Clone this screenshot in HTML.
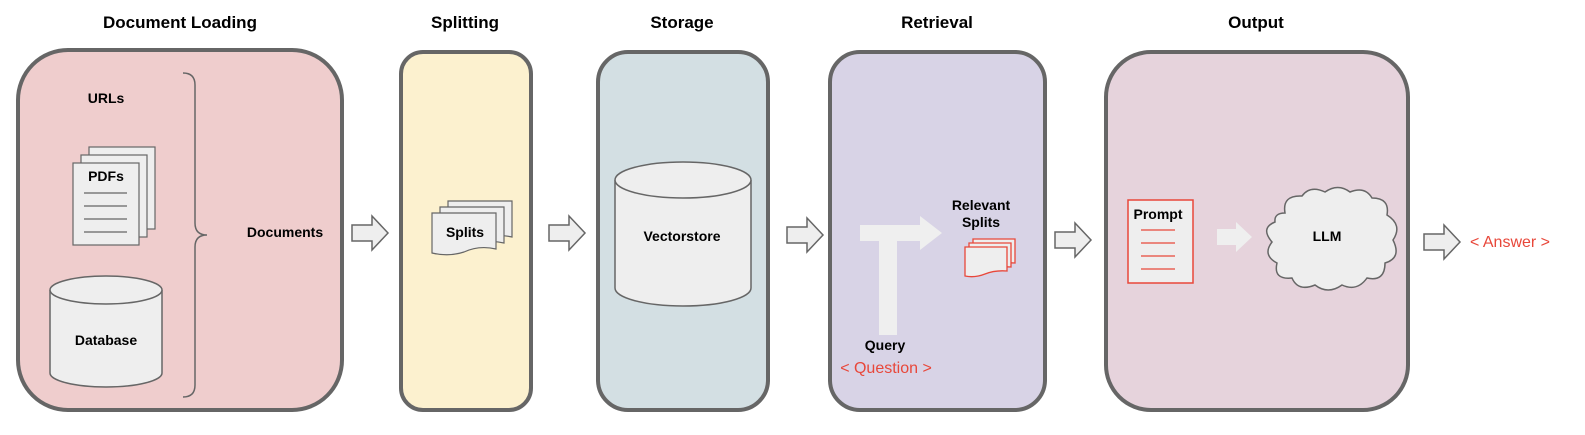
<!DOCTYPE html>
<html><head><meta charset="utf-8"><style>
body{margin:0;background:#fff;}
svg text{font-family:"Liberation Sans",Arial,sans-serif;}
</style></head><body>
<svg width="1585" height="430" viewBox="0 0 1585 430" xmlns="http://www.w3.org/2000/svg">
<defs>
<g id="harrow"><path d="M0,9 H20 V0 L36,17 L20,34 V25 H0 Z" fill="#eeeeee" stroke="#666" stroke-width="1.5"/></g>
</defs>
<g font-weight="bold" font-size="17" text-anchor="middle" fill="#000">
<text x="180" y="28">Document Loading</text>
<text x="465" y="28">Splitting</text>
<text x="682" y="28">Storage</text>
<text x="937" y="28">Retrieval</text>
<text x="1256" y="28">Output</text>
</g>
<g stroke="#666" stroke-width="4">
<rect x="18" y="50" width="324" height="360" rx="50" fill="#efcdcd"/>
<rect x="401" y="52" width="130" height="358" rx="22" fill="#fcf1cf"/>
<rect x="598" y="52" width="170" height="358" rx="30" fill="#d3dfe3"/>
<rect x="830" y="52" width="215" height="358" rx="30" fill="#d8d3e6"/>
<rect x="1106" y="52" width="302" height="358" rx="45" fill="#e6d3dc"/>
</g>
<use href="#harrow" x="352" y="216"/>
<use href="#harrow" x="549" y="216"/>
<use href="#harrow" x="787" y="218"/>
<use href="#harrow" x="1055" y="223"/>
<use href="#harrow" x="1424" y="225"/>
<!-- PDFs -->
<g fill="#eeeeee" stroke="#666" stroke-width="1.2">
<rect x="89" y="147" width="66" height="82"/>
<rect x="81" y="155" width="66" height="82"/>
<rect x="73" y="163" width="66" height="82"/>
</g>
<g stroke="#666" stroke-width="1.2">
<line x1="84" y1="193" x2="127" y2="193"/><line x1="84" y1="206" x2="127" y2="206"/>
<line x1="84" y1="219" x2="127" y2="219"/><line x1="84" y1="232" x2="127" y2="232"/>
</g>
<!-- brace -->
<path d="M183,73 Q195,73 195,85 V223 Q195,235 207,235 Q195,235 195,247 V385 Q195,397 183,397" fill="none" stroke="#666" stroke-width="1.5"/>
<!-- database -->
<path d="M50,290 V373 A56,14 0 0 0 162,373 V290" fill="#eeeeee" stroke="#666" stroke-width="1.5"/>
<ellipse cx="106" cy="290" rx="56" ry="14" fill="#eeeeee" stroke="#666" stroke-width="1.5"/>
<!-- splits -->
<g fill="#eeeeee" stroke="#666" stroke-width="1.2">
<path d="M448,201 H512 V237 Q495,233 480,240 Q465,245 448,241 Z"/>
<path d="M440,207 H504 V243 Q487,239 472,246 Q457,251 440,247 Z"/>
<path d="M432,213 H496 V249 Q479,245 464,252 Q449,257 432,253 Z"/>
</g>
<!-- vectorstore -->
<path d="M615,180 V288 A68,18 0 0 0 751,288 V180" fill="#eeeeee" stroke="#666" stroke-width="1.5"/>
<ellipse cx="683" cy="180" rx="68" ry="18" fill="#eeeeee" stroke="#666" stroke-width="1.5"/>
<!-- T arrow -->
<path d="M860,225 H920 V216 L942,233 L920,250 V241 H897 V335 H879 V241 H860 Z" fill="#efefef"/>
<!-- relevant splits red -->
<g fill="#eeeeee" stroke="#e8473a" stroke-width="1.3">
<path d="M973,239 H1015 V263 Q1003,262 993,266 Q983,270 973,268 Z"/>
<path d="M969,243 H1011 V267 Q999,266 989,270 Q979,274 969,272 Z"/>
<path d="M965,247 H1007 V271 Q995,270 985,274 Q975,278 965,276 Z"/>
</g>
<!-- prompt -->
<rect x="1128" y="200" width="65" height="83" fill="#eeeeee" stroke="#e8473a" stroke-width="1.5"/>
<g stroke="#e8473a" stroke-width="1.3">
<line x1="1141" y1="230" x2="1175" y2="230"/><line x1="1141" y1="243" x2="1175" y2="243"/>
<line x1="1141" y1="256" x2="1175" y2="256"/><line x1="1141" y1="269" x2="1175" y2="269"/>
</g>
<path d="M1217,229 H1236 V222 L1252,237 L1236,252 V245 H1217 Z" fill="#efefef"/>
<!-- cloud -->
<path d="M1285,213 Q1282,195 1302,196 Q1310,185 1325,192 Q1338,183 1350,192 Q1365,186 1372,198 Q1390,198 1387,215 Q1403,225 1393,240 Q1402,258 1385,263 Q1385,282 1367,278 Q1357,292 1342,285 Q1328,295 1315,285 Q1298,292 1292,278 Q1273,280 1277,263 Q1262,255 1272,242 Q1260,228 1275,222 Q1274,213 1285,213 Z" fill="#eeeeee" stroke="#666" stroke-width="1.5"/>
<g font-weight="bold" font-size="14" fill="#000" text-anchor="middle">
<text x="106" y="103">URLs</text>
<text x="106" y="181">PDFs</text>
<text x="285" y="237">Documents</text>
<text x="106" y="345">Database</text>
<text x="465" y="237">Splits</text>
<text x="682" y="241">Vectorstore</text>
<text x="981" y="210">Relevant</text>
<text x="981" y="227">Splits</text>
<text x="885" y="350">Query</text>
<text x="1158" y="219">Prompt</text>
<text x="1327" y="241">LLM</text>
</g>
<text x="886" y="373" font-size="16" fill="#e8473a" text-anchor="middle">&lt; Question &gt;</text>
<text x="1510" y="247" font-size="16" fill="#e8473a" text-anchor="middle">&lt; Answer &gt;</text>
</svg>
</body></html>
